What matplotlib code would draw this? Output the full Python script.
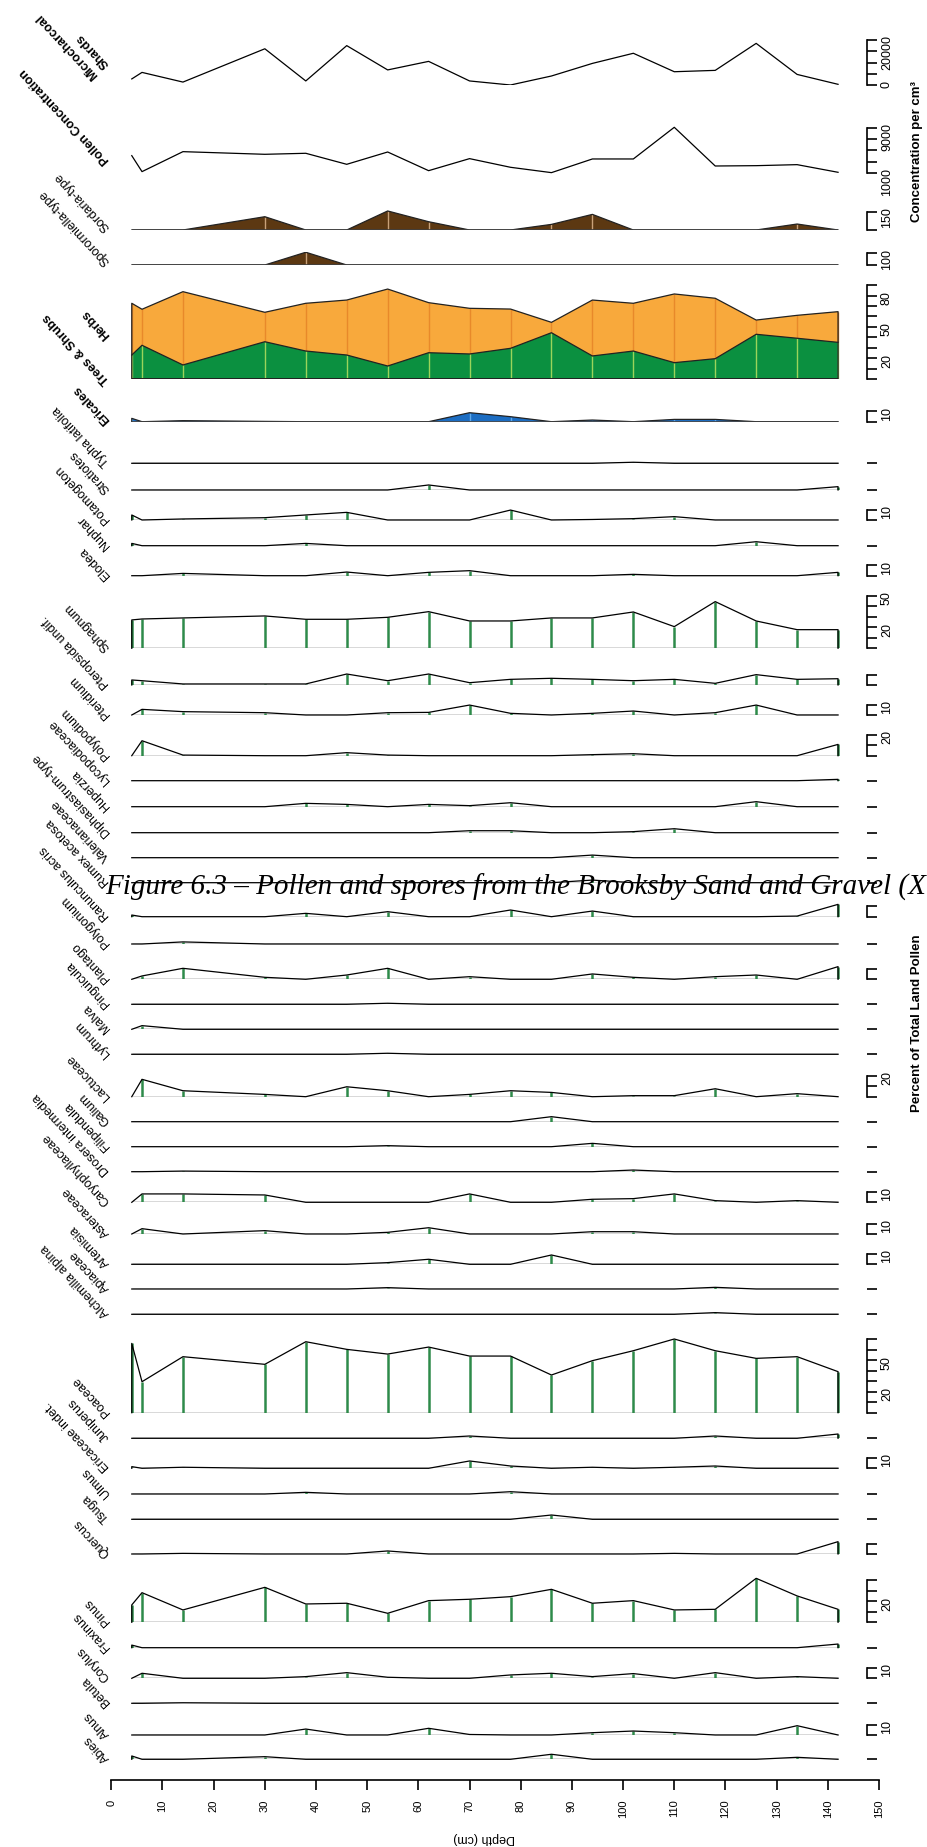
import matplotlib
matplotlib.use("Agg")
import matplotlib.pyplot as plt

plt.rcParams['font.family'] = ['Liberation Sans', 'DejaVu Sans']

# ---------------- data ----------------
depths = [4, 6, 14, 30, 38, 46, 54, 62, 70, 78, 86, 94, 102, 110, 118, 126, 134, 142]

microcharcoal = [2700, 5600, 1300, 16100, 1800, 17500, 6700, 10500, 1800, 0, 4000, 9600, 14100, 5900, 6500, 18500, 4700, 300]
pollen_conc = [4080, 1240, 4790, 4320, 4500, 2540, 4730, 1410, 3550, 2010, 1060, 3490, 3490, 9120, 2240, 2300, 2480, 1120]
sordaria = [0, 0, 0, 109, 0, 0, 156, 68, 0, 0, 46, 128, 0, 0, 0, 0, 49, 0]
sporormiella = [0, 0, 0, 0, 109, 0, 0, 0, 0, 0, 0, 0, 0, 0, 0, 0, 0, 0]

trees_shrubs = [23.2, 32.5, 13.7, 35.9, 27.0, 23.2, 12.7, 25.4, 24.2, 29.6, 44.5, 22.3, 27.0, 15.9, 19.7, 43.0, 39.2, 35.3]
herbs = [49.4, 34.4, 70.0, 28.1, 45.6, 52.5, 73.5, 47.8, 43.6, 37.5, 9.9, 53.4, 45.6, 65.6, 57.7, 13.6, 21.9, 29.3]

ericales = [3.2, 0, 1.0, 0.3, 0, 0, 0, 0, 8.6, 4.8, 0, 1.6, 0, 2.2, 2.2, 0, 0, 0]
typha = [0, 0, 0, 0, 0, 0, 0, 0, 0, 0, 0, 0, 1.0, 0, 0, 0, 0, 0]
stratiotes = [0, 0, 0, 0, 0, 0, 0, 4.8, 0, 0, 0, 0, 0, 0, 0, 0, 0, 3.2]
potamogeton = [4.8, 0, 1.0, 2.2, 4.8, 7.3, 0, 0, 0, 9.5, 0, 0.5, 1.3, 3.2, 0, 0, 0, 0]
nuphar = [2.2, 0, 0, 0, 2.2, 0, 0, 0, 0, 0, 0, 0, 0, 0, 0, 3.8, 0, 0]
elodea = [0, 0, 2.2, 0, 0, 3.5, 0, 3.2, 4.8, 0, 0, 0, 1.3, 0, 0, 0, 0, 3.2]
sphagnum = [27.1, 28.0, 29.0, 30.9, 27.7, 27.7, 29.6, 35.0, 26.1, 26.1, 29.0, 29.0, 34.7, 20.7, 44.6, 26.1, 17.8, 17.8]
pteropsida = [4.8, 4.1, 1.0, 1.0, 1.0, 10.5, 4.1, 10.5, 2.2, 5.4, 6.4, 5.4, 4.1, 5.4, 1.6, 9.9, 5.4, 6.0]
pteridium = [0, 5.4, 3.2, 2.2, 0, 0, 2.2, 2.5, 9.5, 1.6, 0, 1.6, 3.8, 0, 2.2, 9.5, 0, 0]
polypodium = [0, 14.3, 0.6, 0, 0, 2.9, 0.6, 0, 0, 0, 0, 1.0, 1.9, 0, 0, 0, 0, 10.8]
lycopodiaceae = [0, 0, 0, 0, 0, 0, 0, 0, 0, 0, 0, 0, 0, 0, 0, 0, 0, 1.3]
huperzia = [0, 0, 0, 0, 3.2, 2.2, 0, 2.2, 1.0, 3.8, 0, 0, 0, 0, 0, 4.8, 0, 0]
diphasiastrum = [0, 0, 0, 0, 0, 0, 0, 0, 1.9, 1.9, 0, 0, 1.0, 3.8, 0, 0, 0, 0]
valerianaceae = [0, 0, 0, 0, 0, 0, 0, 0, 0, 0, 0, 2.5, 0, 0, 0, 0, 0, 0]
rumex_acetosa = [0, 0, 0, 0, 0, 0, 0, 0, 0, 0, 0, 2.5, 0, 0, 0, 0, 0, 0]
ranunculus_acris = [1.6, 0, 0, 0, 3.2, 0, 4.8, 0, 0, 6.4, 0, 5.4, 0, 0, 0, 0, 0.6, 11.8]
polygonium = [0, 0, 2.0, 0, 0, 0, 0, 0, 0, 0, 0, 0, 0, 0, 0, 0, 0, 0]
plantago = [0, 3.2, 10.5, 1.9, 0, 4.1, 10.5, 0, 2.5, 0, 0, 5.1, 1.9, 0, 2.5, 4.1, 0, 12.1]
pinguicula = [0, 0, 0, 0, 0, 0, 1.0, 0, 0, 0, 0, 0, 0, 0, 0, 0, 0, 0]
malva = [0, 3.5, 0, 0, 0, 0, 0, 0, 0, 0, 0, 0, 0, 0, 0, 0, 0, 0]
lythrum = [0, 0, 0, 0, 0, 0, 1.0, 0, 0, 0, 0, 0, 0, 0, 0, 0, 0, 0]
lactuceae = [0, 16.6, 5.7, 2.2, 0, 9.5, 5.7, 0, 2.2, 5.7, 4.1, 0, 1.0, 1.0, 7.6, 0, 2.9, 0]
galium = [0, 0, 0, 0, 0, 0, 0, 0, 0, 0, 4.8, 0, 0, 0, 0, 0, 0, 0]
filipendula = [0, 0, 0, 0, 0, 0, 1.0, 0, 0, 0, 0, 3.2, 0, 0, 0, 0, 0, 0]
drosera = [0, 0, 0.6, 0, 0, 0, 0, 0, 0, 0, 0, 0, 1.6, 0, 0, 0, 0, 0]
caryophyllaceae = [0, 8.0, 8.0, 7.0, 0, 0, 0, 0, 8.0, 0, 0, 2.9, 3.5, 8.0, 1.6, 0, 1.6, 0]
asteraceae = [0, 5.1, 0, 3.2, 0, 0, 1.6, 6.0, 0, 0, 0, 2.2, 2.2, 0, 0, 0, 0, 0]
artemisia = [0, 0, 0, 0, 0, 0, 1.6, 4.8, 0, 0, 8.9, 0, 0, 0, 0, 0, 0, 0]
apiaceae = [0, 0, 0, 0, 0, 0, 1.3, 0, 0, 0, 0, 0, 0, 0, 1.6, 0, 0, 0]
alchemilla = [0, 0, 0, 0, 0, 0, 0, 0, 0, 0, 0, 0, 0, 0, 1.6, 0, 0, 0]
poaceae = [66.2, 29.6, 53.5, 46.2, 67.8, 60.5, 56.0, 62.7, 54.1, 54.1, 36.0, 49.7, 59.2, 70.4, 59.2, 51.9, 53.5, 39.2]
juniperus = [0, 0, 0, 0, 0, 0, 0, 0, 2.2, 0, 0, 0, 0, 0, 2.2, 0, 0, 4.1]
ericaceae_indet = [1.6, 0, 1.0, 0, 0, 0, 0, 0, 7.0, 2.2, 0, 1.0, 0, 1.0, 2.2, 0, 0, 0]
ulmus = [0, 0, 0, 0, 1.6, 0, 0, 0, 0, 2.2, 0, 0, 0, 0, 0, 0, 0, 0]
tsuga = [0, 0, 0, 0, 0, 0, 0, 0, 0, 0, 4.1, 0, 0, 0, 0, 0, 0, 0]
quercus = [0, 0, 0.6, 0, 0, 0, 2.9, 0, 0, 0, 0, 0, 0, 0.6, 0, 0, 0, 11.8]
pinus = [16.6, 28.3, 11.8, 33.4, 17.5, 18.2, 8.6, 20.7, 22.0, 24.5, 31.5, 18.2, 20.7, 11.8, 12.4, 42.0, 25.2, 12.4]
fraxinus = [2.5, 0, 0, 0, 0, 0, 0, 0, 0, 0, 0, 0, 0, 0, 0, 0, 0, 3.5]
corylus = [0, 4.8, 0, 0, 1.6, 5.4, 1.0, 0, 0, 3.2, 4.8, 1.6, 4.5, 0, 5.4, 0, 1.6, 0]
betula = [0, 0, 0.5, 0, 0, 0, 0, 0, 0, 0, 0, 0, 0, 0, 0, 0, 0, 0]
alnus = [0, 0, 0, 0, 5.7, 0, 0, 6.4, 0.5, 0, 0, 2.2, 3.8, 2.2, 0, 0, 8.9, 0]
abies = [3.2, 0, 0, 2.5, 0, 0, 0, 0, 0, 0, 4.8, 0, 0, 0, 0, 0, 1.9, 0]

depth_ticks = list(range(0, 151, 10))

# ---------------- layout (pixels) ----------------
W, H = 928, 1847
X0, X150 = 111.3, 879.0      # depth 0 and 150
XR = 867.0                   # position of the right-hand scale bars
D_RIGHT = (XR - X0) / (X150 - X0) * 150
PPU = 1.047                  # px per percent
GREEN_BAR = '#2E8B4A'

fig = plt.figure(figsize=(W / 100, H / 100), dpi=100)


def make_axes(base_px, ppu, ymin, ymax, ticks, ticklabels):
    hpx = (ymax - ymin) * ppu
    ax = fig.add_axes([X0 / W, 1 - base_px / H, (XR - X0) / W, hpx / H])
    ax.set_xlim(0, D_RIGHT)
    ax.set_ylim(ymin, ymax)
    ax.patch.set_alpha(0)
    for s in ['left', 'top', 'bottom']:
        ax.spines[s].set_visible(False)
    ax.xaxis.set_visible(False)
    ax.yaxis.tick_right()
    ax.set_yticks(ticks)
    ax.set_yticklabels(ticklabels)
    sp = ax.spines['right']
    if len(ticks) > 1:
        sp.set_bounds(ticks[0], ticks[-1])
        sp.set_linewidth(1.2)
    else:
        sp.set_visible(False)
    ax.tick_params(axis='y', direction='out', length=7, width=1.2,
                   labelrotation=90, labelsize=9, pad=3)
    return ax


def closed(vals):
    return [depths[0]] + depths + [depths[-1]], [0] + list(vals) + [0]


def pct_strip(vals, base, ticks, ticklabels):
    top = max(max(vals), ticks[-1]) * 1.05 + 0.5
    ax = make_axes(base, PPU, 0, top, ticks, ticklabels)
    ax.hlines(0, depths[0], depths[-1], color='#404040', lw=1.0)
    ax.vlines(depths, 0, vals, color=GREEN_BAR, lw=1.8)
    xs, ys = closed(vals)
    ax.plot(xs, ys, color='black', lw=0.9, clip_on=False)
    return ax


def fill_strip(vals, base, ppu, ticks, ticklabels, fc, lc):
    top = max(max(vals), ticks[-1]) * 1.05
    ax = make_axes(base, ppu, 0, top, ticks, ticklabels)
    xs, ys = closed(vals)
    ax.fill(xs, ys, color=fc, lw=0)
    ax.vlines(depths, 0, vals, color=lc, lw=1.0)
    ax.plot(xs, ys, color='#222222', lw=0.9)
    ax.hlines(0, depths[0], depths[-1], color='#404040', lw=1.2)
    return ax


# concentration curves
ax = make_axes(85, 45 / 20000, 0, 22000, [0, 5000, 10000, 15000, 20000],
               ['0', '', '', '', '20000'])
ax.plot(depths, microcharcoal, color='black', lw=0.9)

ax = make_axes(178.6, 45 / 8000, 0, 10000, [1000, 3000, 5000, 7000, 9000],
               ['1000', '', '', '', '9000'])
ax.plot(depths, pollen_conc, color='black', lw=0.9)

fill_strip(sordaria, 230, 18.3 / 150, [0, 150], ['', '150'], '#5C3812', '#C9A27A')
fill_strip(sporormiella, 265, 11.7 / 100, [0, 100], ['', '100'], '#5C3812', '#C9A27A')

# trees & shrubs / herbs (stacked)
tops = [t + h for t, h in zip(trees_shrubs, herbs)]
ax = make_axes(379.3, PPU, 0, 92, list(range(0, 91, 10)),
               ['', '', '20', '', '', '50', '', '', '80', ''])
xs, ys_top = closed(tops)
_, ys_tr = closed(trees_shrubs)
ax.fill(xs, ys_top, color='#F8A93C', lw=0)
ax.fill(xs, ys_tr, color='#0B9040', lw=0)
ax.vlines(depths, trees_shrubs, tops, color='#E8892A', lw=1.0)
ax.vlines(depths, 0, trees_shrubs, color='#9BD45A', lw=1.0)
ax.plot(xs, ys_top, color='#222222', lw=0.9)
ax.plot(depths, trees_shrubs, color='#222222', lw=0.9)
ax.hlines(0, depths[0], depths[-1], color='#222222', lw=1.4)

fill_strip(ericales, 421.7, PPU, [0, 10], ['', '10'], '#1C6DC2', '#5FA8E8')

T10 = ([0, 10], ['', '10'])
T10n = ([0, 10], ['', ''])
T0 = ([0], [''])

strips = [
    (typha, 463.3, T0), (stratiotes, 490, T0), (potamogeton, 520, T10),
    (nuphar, 545.7, T0), (elodea, 575.7, T10),
    (sphagnum, 648.3, ([0, 10, 20, 30, 40, 50], ['', '', '20', '', '', '50'])),
    (pteropsida, 685, T10n), (pteridium, 715, T10),
    (polypodium, 755.7, ([0, 10, 20], ['', '', '20'])),
    (lycopodiaceae, 780.7, T0), (huperzia, 806.7, T0), (diphasiastrum, 832.7, T0),
    (valerianaceae, 857.7, T0), (rumex_acetosa, 882.7, T0),
    (ranunculus_acris, 916.7, T10n), (polygonium, 944, T0),
    (plantago, 979.3, T10n), (pinguicula, 1004.3, T0), (malva, 1029.3, T0),
    (lythrum, 1054.3, T0), (lactuceae, 1096.7, ([0, 10, 20], ['', '', '20'])),
    (galium, 1121.7, T0), (filipendula, 1146.7, T0), (drosera, 1171.7, T0),
    (caryophyllaceae, 1202.3, T10), (asteraceae, 1234, T10), (artemisia, 1264.3, T10),
    (apiaceae, 1289, T0), (alchemilla, 1314.3, T0),
    (poaceae, 1412.7, (list(range(0, 71, 10)), ['', '', '20', '', '', '50', '', ''])),
    (juniperus, 1438.3, T0), (ericaceae_indet, 1468.3, T10), (ulmus, 1494, T0),
    (tsuga, 1519.3, T0), (quercus, 1554, T10n),
    (pinus, 1622.3, ([0, 10, 20, 30, 40], ['', '', '20', '', ''])),
    (fraxinus, 1647.7, T0), (corylus, 1678.3, T10), (betula, 1703.3, T0),
    (alnus, 1735, T10), (abies, 1759.3, T0),
]
for vals, base, (tk, tl) in strips:
    pct_strip(vals, base, tk, tl)

# depth axis
axd = fig.add_axes([X0 / W, 1 - 1780 / H, (X150 - X0) / W, 0.001])
axd.set_xlim(0, 150)
axd.patch.set_alpha(0)
for s in ['left', 'top', 'right']:
    axd.spines[s].set_visible(False)
axd.yaxis.set_visible(False)
axd.spines['bottom'].set_linewidth(1.2)
axd.set_xticks(depth_ticks)
axd.set_xticklabels([str(d) for d in depth_ticks])
axd.tick_params(axis='x', direction='out', length=7, width=1.2,
                labelrotation=90, labelsize=8, pad=7)
fig.text(484 / W, 1 - 1838 / H, 'Depth (cm)', rotation=180, fontsize=9,
         ha='center', va='center')

# taxon labels: (text, anchor_x_px, anchor_y_px, bold)
labels = [
    ('Shards', 110, 64, True), ('Microcharcoal', 98, 75, True),
    ('Pollen Concentration', 110, 160, True),
    ('Sordaria-type', 110, 227, False), ('Sporormiella-type', 110, 261, False),
    ('Herbs', 110, 335, True), ('Trees & Shrubs', 110, 380, True),
    ('Ericales', 110, 420, True),
]
names = ['Typha latifolia', 'Stratiotes', 'Potamogeton', 'Nuphar', 'Elodea',
         'Sphagnum', 'Pteropsida undif.', 'Pteridium', 'Polypodium',
         'Lycopodiaceae', 'Huperzia', 'Diphasiastrum-type', 'Valerianaceae',
         'Rumex acetosa', 'Ranunculus acris', 'Polygonium', 'Plantago',
         'Pinguicula', 'Malva', 'Lythrum', 'Lactuceae', 'Galium', 'Filipendula',
         'Drosera intermedia', 'Caryophyllaceae', 'Asteraceae', 'Artemisia',
         'Apiaceae', 'Alchemilla alpina', 'Poaceae', 'Juniperus',
         'Ericaceae indet.', 'Ulmus', 'Tsuga', 'Quercus', 'Pinus', 'Fraxinus',
         'Corylus', 'Betula', 'Alnus', 'Abies']
for name, (_, base, _) in zip(names, strips):
    labels.append((name, 110, base - 1, False))

for txt, lx, ly, bold in labels:
    fig.text(lx / W, 1 - ly / H, txt, rotation=133, rotation_mode='anchor',
             ha='left', va='baseline', fontsize=9,
             fontweight='bold' if bold else 'normal')

fig.text(917 / W, 1 - 151 / H, 'Concentration per cm³', rotation=90,
         fontsize=9.5, fontweight='bold', ha='center', va='center')
fig.text(917 / W, 1 - 1023 / H, 'Percent of Total Land Pollen', rotation=90,
         fontsize=9.5, fontweight='bold', ha='center', va='center')

fig.text(105 / W, 1 - 895 / H,
         'Figure 6.3 \u2013 Pollen and spores from the Brooksby Sand and Gravel (X',
         family=['Liberation Serif', 'DejaVu Serif'], style='italic', fontsize=21,
         ha='left', va='baseline')

fig.savefig('out.png', dpi=100, facecolor='white')
